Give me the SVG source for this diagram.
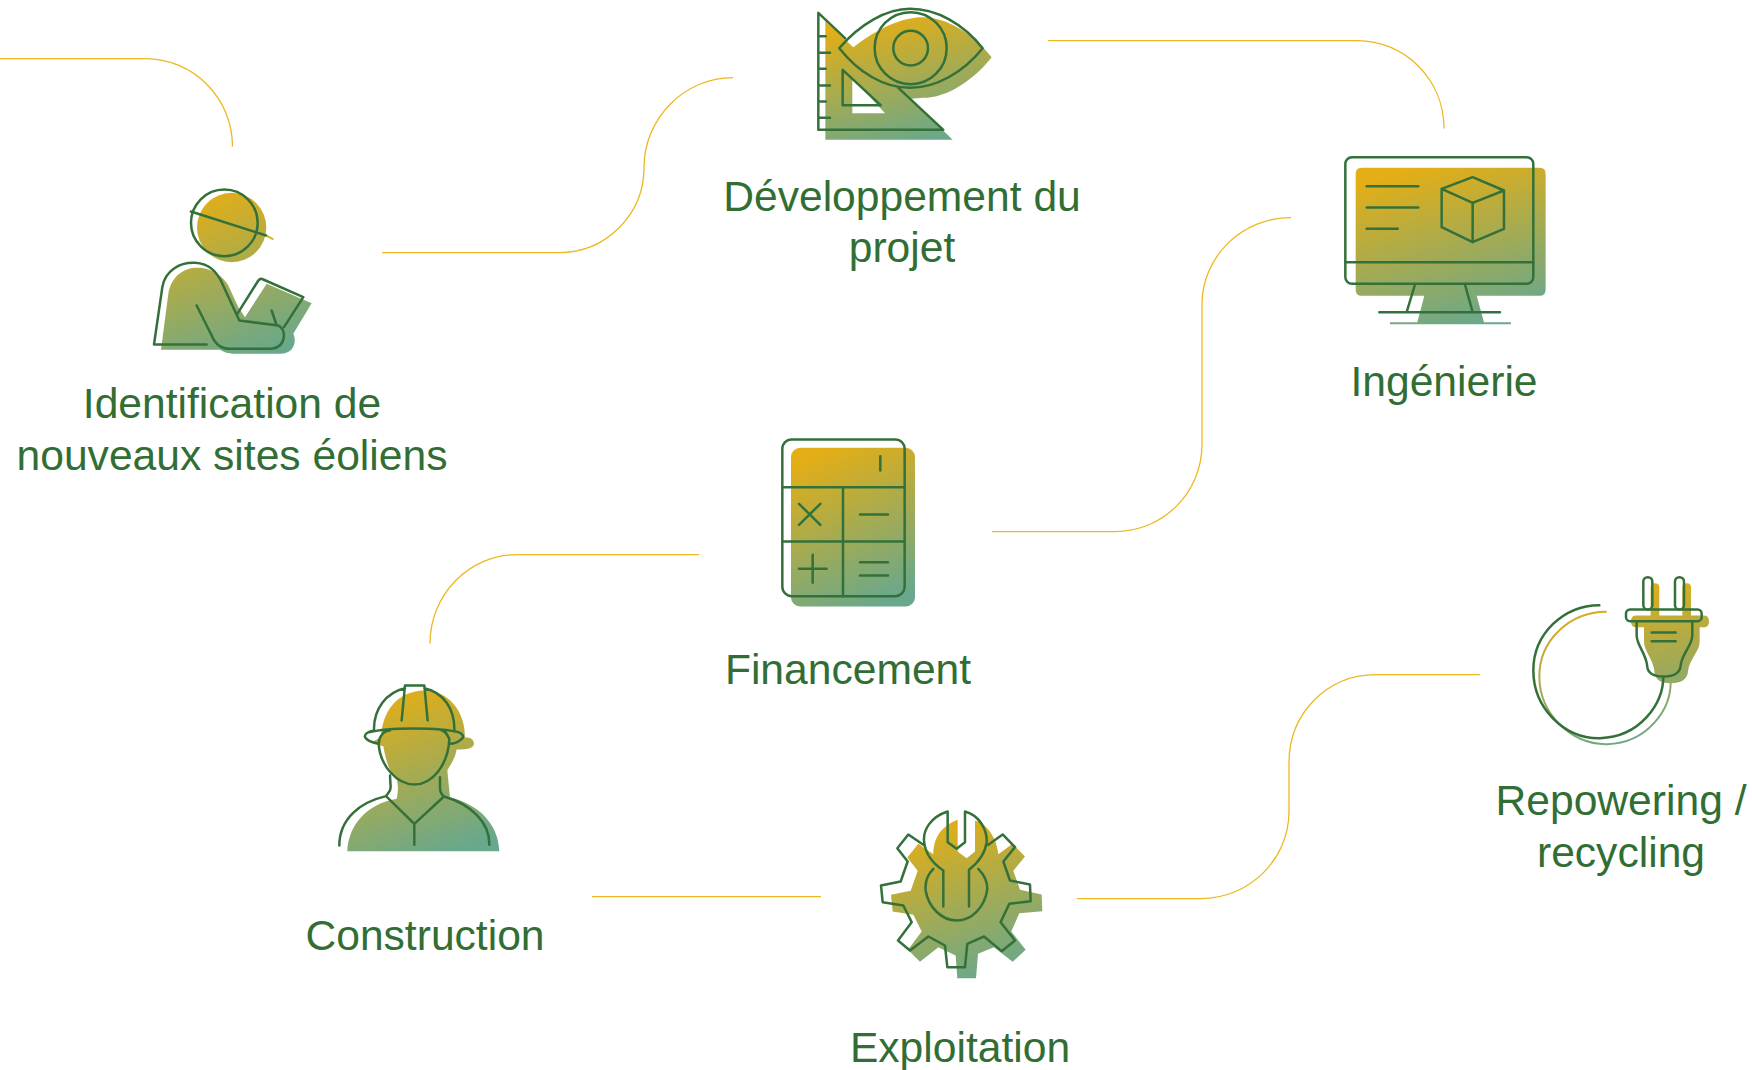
<svg xmlns="http://www.w3.org/2000/svg" width="1752" height="1070" viewBox="0 0 1752 1070">
<style>
.t{font-family:"Liberation Sans",Arial,sans-serif;font-size:42.6px;fill:#326e33;text-anchor:middle}
.o{fill:none;stroke:#34713a;stroke-width:7.5;stroke-linecap:round;stroke-linejoin:round}
.f{fill:url(#g);fill-rule:evenodd}
.c{fill:none;stroke:#edb81f;stroke-width:1.3}
</style>
<defs>
<linearGradient id="g" x1="0.33" y1="0" x2="0.67" y2="1"><stop offset="0" stop-color="#e3ae16"/><stop offset="1" stop-color="#69a88c"/></linearGradient>
<linearGradient id="p" gradientUnits="userSpaceOnUse" x1="320" y1="38" x2="440" y2="525"><stop offset="0" stop-color="#e3ae16"/><stop offset="1" stop-color="#66a68f"/></linearGradient>
</defs>
<g id="connectors" transform="translate(0 .6)">
<path class="c" d="M0 58H145C193 58 232.500 97 232.500 146"/>
<path class="c" d="M382 252H559C606 252 644 214 644 167C644 118 684 77 733 77"/>
<path class="c" d="M1048 40H1357C1405 40 1444 79 1444 128"/>
<path class="c" d="M992 531H1115C1163 531 1202 492 1202 444V304C1202 256 1242 217 1291 217"/>
<path class="c" d="M699 554H517C469 554 430 594 430 643"/>
<path class="c" d="M592 896H821"/>
<path class="c" d="M1077 898H1201C1249 898 1289 859 1289 811V762C1289 713 1327 674 1376 674H1480"/>
</g>
<g id="identification">
<g transform="translate(130 170.500) scale(.3333)">
<path class="f" d="M201 171A104 104 0 1 1 409 171A104 104 0 1 1 201 171ZM93 538L115 370C125 310 170 288 210 292C250 295 280 320 295 345L325 410L345 440L410 340L545 398L490 490C500 510 495 550 450 550L320 550C295 550 280 545 270 538Z"/>
<path d="M408 195L430 207" fill="none" stroke="#dcb01f" stroke-width="6"/>
<circle class="o" cx="283" cy="157" r="100"/>
<path class="o" d="M183 123L408 195M230 522H72L97 350C105 300 150 275 195 277C240 280 260 305 275 335L328 450L445 465C470 475 470 530 425 535L300 535C270 535 255 520 245 495L200 405M322 430L385 330Q392 322 400 327L520 380L462 470M425 420L440 465"/>
</g>
<text class="t" x="232" y="417.500">Identification de</text>
<text class="t" x="232" y="469.500">nouveaux sites éoliens</text>
</g>
<g id="developpement">
<g transform="translate(790 .5) scale(.3333)">
<path class="f" d="M106 62L190 140C280 70 350 50 400 50C470 50 550 100 605 170C550 240 470 292 400 292L362 295L488 418H106ZM187 232V338H285Z"/>
<path class="o" d="M165 113L85 37V388H460L325 262M85 107H107M85 157H120M85 205H107M85 255H120M85 303H107M85 352H120M158 208V314H272ZM148 143C210 70 290 25 360 25C440 25 520 70 578 143C520 215 440 262 360 262C280 262 205 215 148 143Z"/>
<circle class="o" cx="362" cy="143" r="108"/>
<circle class="o" cx="362" cy="143" r="52"/>
</g>
<text class="t" x="902" y="210.500">Développement du</text>
<text class="t" x="902" y="261.500">projet</text>
</g>
<g id="ingenierie">
<g transform="translate(1330 140.500) scale(.3333)">
<path class="f" d="M95 82H629Q647 82 647 100V448Q647 466 629 466H440L462 545H543V551H180V545H262L283 466H95Q77 466 77 448V100Q77 82 95 82Z"/>
<rect class="o" x="46" y="50" width="564" height="380" rx="20"/>
<path class="o" d="M46 365H610M110 137H265M110 201H265M110 265H203M428 110L522 150V265L428 305L335 260V145ZM335 145L428 187L522 150M428 187V305M255 432L230 515M405 432L428 515M148 515H510"/>
</g>
<text class="t" x="1444" y="395.500">Ingénierie</text>
</g>
<g id="financement">
<g transform="translate(770 425.500) scale(.3333)">
<rect class="f" x="63" y="67" width="372" height="476" rx="28"/>
<rect class="o" x="37" y="42" width="367" height="470" rx="28"/>
<path class="o" d="M37 185H404M37 348H404M219 185V512M331 92V135M87 235L151 298M151 235L87 298M270 267H354M87 430H170M128 388V472M270 410H354M270 450H354"/>
</g>
<text class="t" x="848" y="683.500">Financement</text>
</g>
<g id="construction">
<g transform="translate(330 675.500) scale(.3333)">
<path class="f" d="M153 190C155 110 200 47 282 45C350 45 405 100 405 185C425 185 432 195 432 205C430 220 410 222 380 222C375 250 360 270 352 285L360 365C440 385 505 440 508 527H52C55 450 110 385 200 370C205 350 205 330 200 310C175 290 165 240 160 212L130 205C130 195 140 190 153 190Z"/>
<path class="o" d="M132 165C130 100 170 50 225 38M215 135L225 30H283L293 135M283 38C340 50 375 100 373 165M132 165C110 168 103 178 105 185C110 195 130 202 146 205M120 170C170 155 330 155 385 170C400 175 403 185 395 190C385 200 370 205 358 205M146 205C150 270 200 327 253 327C305 327 355 270 358 190C350 175 345 165 335 165M146 205C146 185 160 165 180 165M180 300L182 335C182 350 172 355 168 362M330 305V335C330 350 335 358 342 363M168 362L253 445L342 363M253 445V508M28 510C28 430 90 380 168 362M342 363C420 385 480 440 478 508"/>
</g>
<text class="t" x="425" y="949.500">Construction</text>
</g>
<g id="exploitation">
<g transform="translate(870 800.500) scale(.3333)">
<path class="f" d="M190 161L145 130L112 171L143 211L122 271L63 283L68 333L130 343L155 393L114 448L150 484L205 440L257 465L262 533H318L324 460L372 440L428 484L467 448L424 393L448 338L517 332L515 282L450 268L430 211L465 168L428 130L385 161C380 110 350 70 315 60V153L290 173L263 153V58C210 78 190 118 190 161Z"/>
<path class="o" d="M160 133L115 102L82 143L113 183L92 243L33 255L38 305L100 315L125 365L84 420L120 450L175 408L225 435L232 500H285L292 430L342 408L395 452L435 420L392 365L418 310L482 302L480 252L420 240L400 183L435 140L398 102L355 133M233 33C180 50 160 90 162 120C165 160 190 190 220 210V318M285 33C330 45 352 90 350 125C345 165 320 190 297 208V318M233 33V125L260 145L285 125V33M190 205C170 225 165 250 167 270C175 320 215 360 260 360C305 360 345 320 352 265C352 245 345 225 325 205"/>
</g>
<text class="t" x="960" y="1061.500">Exploitation</text>
</g>
<g id="repowering">
<g transform="translate(1520 570.500) scale(.3333)">
<path fill="url(#p)" d="M392 135V50Q392 38 405 38Q418 38 418 50V135H487V50Q487 38 500 38Q513 38 513 50V135H552Q567 135 567 152Q567 170 552 170H539V213C539 243 507 268 504 303C502 328 482 338 452 338C422 338 407 328 404 308C402 268 372 243 372 213V170H348Q333 170 333 152Q333 135 348 135Z"/>
<path fill="none" stroke="url(#p)" stroke-width="6" stroke-linecap="round" d="M452 336C452 418 382 518 262 521C152 523 58 428 58 318C58 208 150 125 258 124"/>
<rect class="o" x="370" y="20" width="27" height="97" rx="13"/>
<rect class="o" x="465" y="20" width="27" height="97" rx="13"/>
<rect class="o" x="318" y="117" width="227" height="35" rx="12"/>
<path class="o" d="M350 152V195C350 225 380 250 382 290C385 310 400 318 430 318C460 318 480 310 482 285C485 250 517 225 517 195V152M395 186H467M395 212H467M430 318C430 400 360 500 240 503C130 505 40 410 40 300C40 190 130 105 238 104"/>
</g>
<text class="t" x="1621" y="814.500">Repowering /</text>
<text class="t" x="1621" y="866.500">recycling</text>
</g>
</svg>
